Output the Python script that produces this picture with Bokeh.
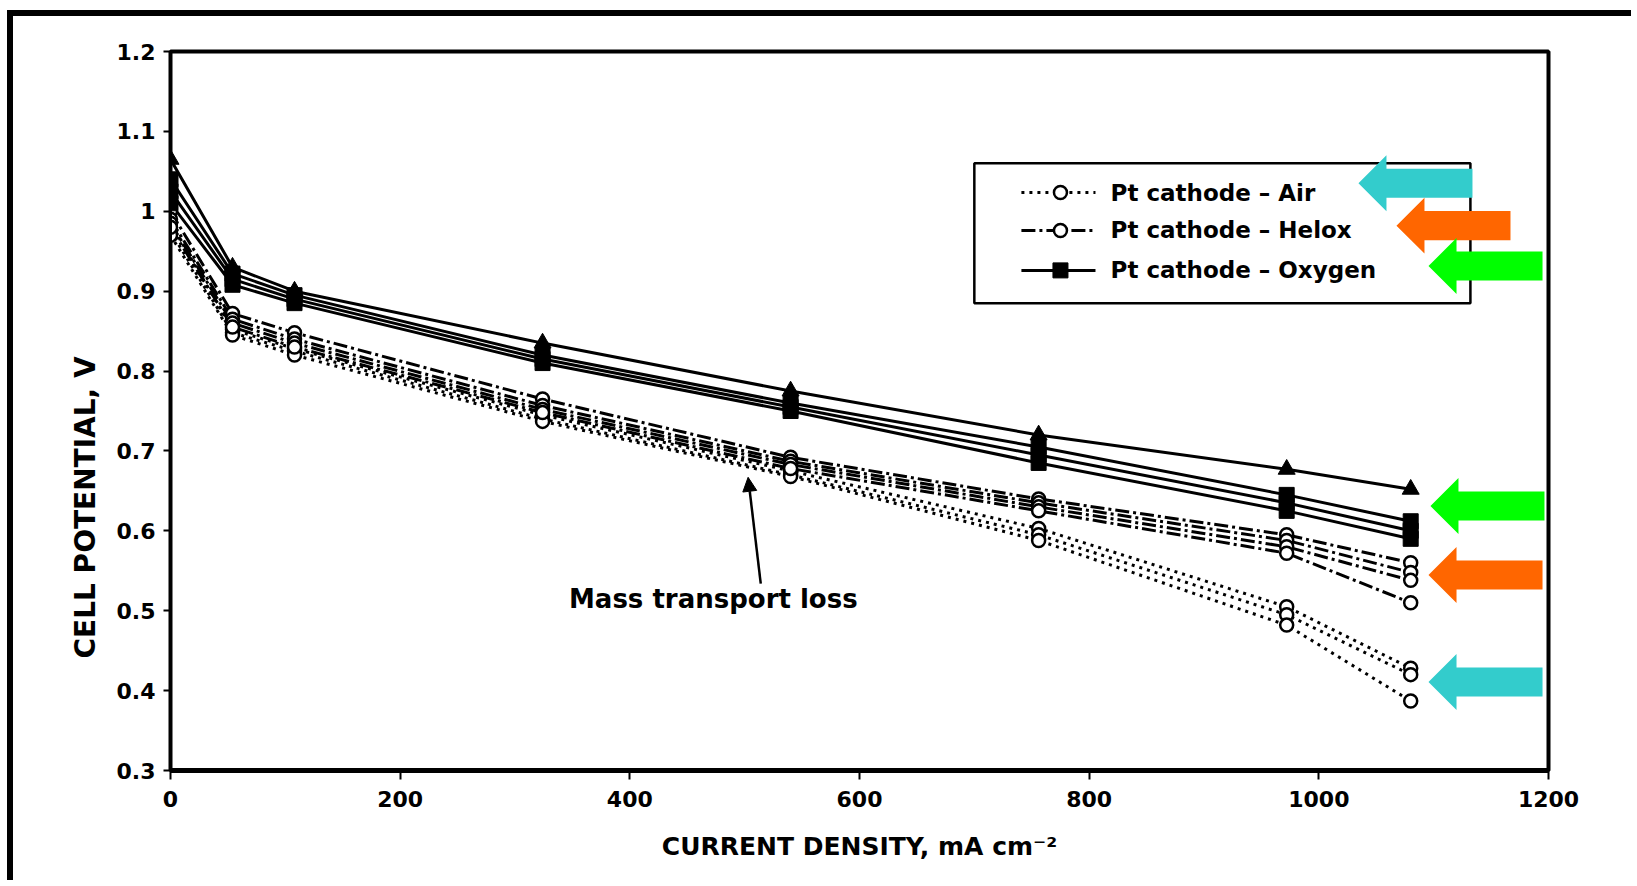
from bokeh.plotting import figure
from bokeh.models import (FixedTicker, Arrow, NormalHead, Label, BoxAnnotation,
                          Title, ColumnDataSource, Range1d, PolyAnnotation)
from bokeh.embed import file_html
from bokeh.resources import INLINE

# ---------------- data ----------------
current_density = [0, 54, 108, 324, 540, 756, 972, 1080]

oxygen_1 = [1.065, 0.930, 0.900, 0.835, 0.775, 0.720, 0.677, 0.652]   # triangles
oxygen_2 = [1.040, 0.922, 0.895, 0.820, 0.760, 0.705, 0.645, 0.612]
oxygen_3 = [1.025, 0.915, 0.890, 0.815, 0.755, 0.695, 0.635, 0.600]
oxygen_4 = [1.010, 0.908, 0.885, 0.810, 0.750, 0.685, 0.625, 0.590]

helox_1 = [1.000, 0.872, 0.848, 0.765, 0.692, 0.640, 0.595, 0.560]
helox_2 = [0.990, 0.865, 0.840, 0.757, 0.687, 0.635, 0.588, 0.548]
helox_3 = [0.985, 0.860, 0.835, 0.752, 0.683, 0.630, 0.580, 0.538]
helox_4 = [0.980, 0.855, 0.830, 0.748, 0.678, 0.625, 0.572, 0.510]

air_1 = [0.985, 0.852, 0.828, 0.745, 0.675, 0.603, 0.505, 0.428]
air_2 = [0.975, 0.848, 0.825, 0.740, 0.670, 0.595, 0.495, 0.420]
air_3 = [0.970, 0.845, 0.820, 0.737, 0.668, 0.588, 0.482, 0.387]

legend_labels = ["Pt cathode \u2013 Air", "Pt cathode \u2013 Helox", "Pt cathode \u2013 Oxygen"]

x_tick_values = [0, 200, 400, 600, 800, 1000, 1200]
y_tick_values = [0.3, 0.4, 0.5, 0.6, 0.7, 0.8, 0.9, 1.0, 1.1, 1.2]
y_tick_labels = ["0.3", "0.4", "0.5", "0.6", "0.7", "0.8", "0.9", "1", "1.1", "1.2"]

# highlight arrows (annotation): tip x, centre y, length, colour
arrow_tip_x = [1034.5, 1067.6, 1095.5, 1097.2, 1095.5, 1095.5]
arrow_y = [1.035, 0.982, 0.9315, 0.631, 0.5447, 0.4108]
arrow_len = [99.3, 99.3, 99.3, 99.3, 99.3, 99.3]
arrow_colors = ["#33CCCC", "#FF6600", "#00FF00", "#00FF00", "#FF6600", "#33CCCC"]

# legend box placement (in axis units)
LEG_LEFT, LEG_RIGHT, LEG_TOP, LEG_BOTTOM = 700, 1132, 1.060, 0.885
LEG_ROWS = [1.0235, 0.976, 0.926]
LEG_LINE_X = [741, 805.5]
LEG_MARK_X = 775
LEG_TEXT_X = 818.6

FONT = "DejaVu Sans"

p = figure(width=1624, height=870, output_backend="svg", toolbar_location=None,
           x_range=Range1d(0, 1200), y_range=Range1d(0.3, 1.2),
           min_border_left=157, min_border_right=89, min_border_top=35, min_border_bottom=116,
           background_fill_color="white", border_fill_color="white")
# outer frame of the scanned page (top and left edges)
p.styles = {"margin-left": "7px", "margin-top": "10px",
            "border-left": "6px solid black", "border-top": "6px solid black"}
p.grid.visible = False
p.outline_line_color = "black"
p.outline_line_width = 4

# axes
p.xaxis.ticker = FixedTicker(ticks=x_tick_values)
p.yaxis.ticker = FixedTicker(ticks=y_tick_values)
p.yaxis.major_label_overrides = dict(zip(y_tick_values, y_tick_labels))
for ax in (p.xaxis[0], p.yaxis[0]):
    ax.minor_tick_line_color = None
    ax.major_tick_in = 0
    ax.major_tick_line_width = 2
    ax.major_tick_line_color = "black"
    ax.axis_line_color = "black"
    ax.major_label_text_font = FONT
    ax.major_label_text_font_style = "bold"
    ax.major_label_text_font_size = "22px"
    ax.major_label_text_color = "black"
p.xaxis.major_tick_out = 9
p.yaxis.major_tick_out = 7
p.xaxis.axis_line_width = 5
p.yaxis.axis_line_width = 3
p.xaxis.major_label_standoff = 11
p.yaxis.major_label_standoff = 8
p.xaxis.axis_label = "CURRENT DENSITY, mA cm\u207b\u00b2"
p.xaxis.axis_label_text_font = FONT
p.xaxis.axis_label_text_font_style = "bold"
p.xaxis.axis_label_text_font_size = "25px"
p.xaxis.axis_label_standoff = 22
p.xaxis.axis_label_text_color = "black"

ytitle = Title(text="CELL POTENTIAL, V", align="left", offset=112, standoff=22,
               text_font=FONT, text_font_style="bold", text_font_size="28px",
               text_color="black", vertical_align="middle")
p.add_layout(ytitle, "left")

# legend box (drawn beneath everything else)
p.add_layout(BoxAnnotation(left=LEG_LEFT, right=LEG_RIGHT, top=LEG_TOP, bottom=LEG_BOTTOM,
                           fill_color="white", fill_alpha=1.0, line_color="black",
                           line_width=2.5, line_alpha=1.0, level="underlay"))

src = ColumnDataSource(dict(
    x=current_density,
    o1=oxygen_1, o2=oxygen_2, o3=oxygen_3, o4=oxygen_4,
    h1=helox_1, h2=helox_2, h3=helox_3, h4=helox_4,
    a1=air_1, a2=air_2, a3=air_3,
))

AIR_DASH = "3 5"
HELOX_DASH = "14 4 3 4"

for col in ["a1", "a2", "a3"]:
    p.line("x", col, source=src, line_width=3, line_color="black", line_dash=AIR_DASH)
for col in ["h1", "h2", "h3", "h4"]:
    p.line("x", col, source=src, line_width=3, line_color="black", line_dash=HELOX_DASH)
for col in ["o1", "o2", "o3", "o4"]:
    p.line("x", col, source=src, line_width=3, line_color="black")

for col in ["a1", "a2", "a3", "h1", "h2", "h3", "h4"]:
    p.scatter("x", col, source=src, marker="circle", size=13,
              fill_color="white", line_color="black", line_width=2.5)
for col in ["o2", "o3", "o4"]:
    p.scatter("x", col, source=src, marker="square", size=15,
              fill_color="black", line_color="black", line_width=1)
p.scatter("x", "o1", source=src, marker="triangle", size=17,
          fill_color="black", line_color="black", line_width=1)

# legend samples and labels
leg_dashes = [AIR_DASH, HELOX_DASH, "solid"]
leg_markers = ["circle", "circle", "square"]
leg_fills = ["white", "white", "black"]
for row_y, dash, mk, fc, lab in zip(LEG_ROWS, leg_dashes, leg_markers, leg_fills, legend_labels):
    p.line(LEG_LINE_X, [row_y, row_y], line_width=3, line_color="black", line_dash=dash)
    p.scatter([LEG_MARK_X], [row_y], marker=mk, size=13 if mk == "circle" else 15,
              fill_color=fc, line_color="black", line_width=2.5 if mk == "circle" else 1)
    p.add_layout(Label(x=LEG_TEXT_X, y=row_y, text=lab, text_baseline="middle",
                       text_font=FONT, text_font_style="bold", text_font_size="23px",
                       text_color="black"))

# mass transport annotation
p.add_layout(Arrow(end=NormalHead(size=14, fill_color="black", line_color="black"),
                   x_start=514, y_start=0.534, x_end=503, y_end=0.667,
                   line_width=2.5, line_color="black"))
p.add_layout(Label(x=347, y=0.515, text="Mass transport loss", text_baseline="middle",
                   text_font=FONT, text_font_style="bold", text_font_size="26px",
                   text_color="black"))

# coloured block arrows, drawn above the legend box
HEAD_L, HEAD_H, BODY_H = 24.4, 0.035, 0.0182
xs, ys = [], []
for tx, cy, ln in zip(arrow_tip_x, arrow_y, arrow_len):
    xs.append([tx, tx + HEAD_L, tx + HEAD_L, tx + ln, tx + ln, tx + HEAD_L, tx + HEAD_L])
    ys.append([cy, cy + HEAD_H, cy + BODY_H, cy + BODY_H, cy - BODY_H, cy - BODY_H, cy - HEAD_H])
p.patches(xs, ys, fill_color=arrow_colors, line_color=None)

open("out.html", "w").write(file_html(p, INLINE))
